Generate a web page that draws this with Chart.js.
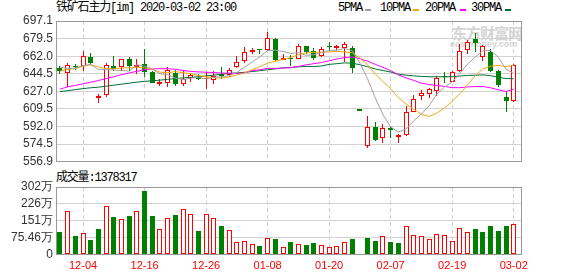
<!DOCTYPE html>
<html>
<head>
<meta charset="utf-8">
<script src="https://cdn.jsdelivr.net/npm/chart.js@4.4.1/dist/chart.umd.min.js"></script>
<style>
  body { margin: 0; width: 578px; height: 276px; overflow: hidden; position: relative; background: #fff; }
  .txt { position: absolute; font: 12px "Liberation Mono", "Noto Sans CJK SC", monospace; letter-spacing: -1.2px; color: #000; white-space: nowrap; line-height: 14px; }
  .sw { position: absolute; height: 2px; width: 6px; top: 9px; }
  .wm { position: absolute; color: #d4d4d4; white-space: nowrap; }
  canvas { position: absolute; left: 0; }
</style>
</head>
<body>
<div class="wm" style="left:452px;top:22px;font:bold 15px 'Noto Sans CJK SC';letter-spacing:-1px">东方财富网</div>
<div class="wm" style="left:450px;top:39px;font:bold 9px 'Liberation Sans'">eastmoney.com</div>

<div class="txt" style="left:56px;top:1px">铁矿石主力[im] 2020-03-02 23:00</div>
<div class="txt" style="left:338px;top:1px">5PMA</div><div class="sw" style="left:365px;background:#a0a0a0"></div>
<div class="txt" style="left:380px;top:1px">10PMA</div><div class="sw" style="left:413px;background:#f5a511"></div>
<div class="txt" style="left:425px;top:1px">20PMA</div><div class="sw" style="left:460px;background:#ff00ff"></div>
<div class="txt" style="left:471px;top:1px">30PMA</div><div class="sw" style="left:505px;background:#006f33"></div>
<div class="txt" style="left:56px;top:171px">成交量:1378317</div>

<canvas id="kline" width="578" height="172" style="top:0"></canvas>
<canvas id="vol" width="578" height="106" style="top:170px"></canvas>

<script>
// 日期 ---------------------------------------------------------
var dates = ['11-29','12-02','12-03','12-04','12-05','12-06','12-09','12-10','12-11','12-12',
  '12-13','12-16','12-17','12-18','12-19','12-20','12-23','12-24','12-25','12-26',
  '12-27','12-30','12-31','01-02','01-03','01-06','01-07','01-08','01-09','01-10',
  '01-13','01-14','01-15','01-16','01-17','01-20','01-21','01-22','01-23','02-03',
  '02-04','02-05','02-06','02-07','02-10','02-11','02-12','02-13','02-14','02-17',
  '02-18','02-19','02-20','02-21','02-24','02-25','02-26','02-27','02-28','03-02'];
var labelDays = ['12-04','12-16','12-26','01-08','01-20','02-07','02-19','03-02'];

// K线 ----------------------------------------------------------
var open = [650.0,645.6,651.5,652.0,661.7,620.8,623.7,652.7,651.4,659.4,
  651.6,654.6,646.2,634.8,635.6,645.7,634.3,640.0,641.0,639.3,
  638.8,644.7,643.1,651.4,657.5,666.2,668.4,667.8,679.1,658.5,
  659.6,659.4,672.0,666.8,662.3,671.3,670.4,670.7,670.4,607.8,
  572.5,591.2,580.5,589.6,581.8,583.4,606.9,622.7,624.3,627.2,
  641.7,636.2,647.2,668.1,678.7,661.7,665.9,647.2,621.1,617.2];
var high = [652.0,655.6,654.6,667.5,665.5,624.3,655.2,662.3,659.6,661.7,
  659.4,669.4,647.2,639.5,651.3,648.0,648.6,645.5,644.0,646.4,
  647.5,651.0,650.1,662.3,671.3,670.0,669.4,685.8,680.0,664.3,
  663.0,673.9,672.2,670.7,671.0,676.2,673.2,675.8,672.0,607.8,
  602.8,596.3,594.1,591.5,585.0,612.1,623.0,628.8,630.1,642.4,
  646.2,646.9,674.6,677.8,685.5,673.3,668.8,648.8,626.9,654.3];
var low = [644.0,631.4,648.2,647.8,653.3,615.6,621.4,647.8,647.5,647.5,
  644.7,641.7,634.9,632.5,631.0,632.6,632.7,636.6,638.0,629.4,
  634.0,639.5,641.1,650.4,655.2,664.3,664.0,667.3,657.2,658.0,
  652.3,659.0,664.3,658.1,661.4,668.0,668.1,656.2,645.6,607.5,
  570.5,578.0,576.0,580.9,575.4,583.0,606.5,618.9,620.5,622.1,
  634.9,635.9,646.5,663.9,666.5,656.9,646.5,631.1,606.9,616.6];
var close = [647.5,653.3,651.0,662.3,655.3,621.4,653.3,649.8,659.1,652.3,
  653.0,646.5,635.2,635.6,648.6,634.6,639.8,643.0,639.5,640.3,
  642.8,642.1,648.6,655.9,666.5,668.4,668.0,679.7,657.8,659.7,
  659.0,672.0,665.9,660.7,669.7,670.8,672.6,674.6,650.4,607.5,
  591.8,578.9,590.8,589.0,582.4,606.3,619.8,625.0,629.8,640.4,
  641.1,645.9,667.2,676.2,675.5,672.6,647.2,633.7,617.2,653.6];

// 均线 ---------------------------------------------------------
var ma5 = [651.4,649.5,650.4,652.7,653.9,648.7,648.7,648.4,647.8,647.2,
  653.5,652.1,649.4,644.5,643.8,640.1,638.8,640.2,641.1,639.4,
  641.1,641.5,642.7,645.9,651.2,656.3,661.5,667.7,668.1,666.7,
  664.8,665.6,662.9,663.5,665.5,667.8,667.9,669.7,667.6,655.2,
  639.4,620.6,603.9,591.6,586.6,589.5,597.7,604.5,612.7,624.3,
  631.2,636.4,644.9,654.2,661.2,667.5,667.7,661.0,649.2,644.9];
var ma10 = [647.2,648.8,649.8,652.0,653.6,651.4,649.5,649.5,650.4,650.5,
  651.1,650.4,648.9,646.2,645.5,646.8,645.5,644.8,642.8,641.6,
  640.6,640.2,641.4,643.5,645.3,648.7,651.5,655.2,657.0,659.0,
  660.6,663.6,665.3,665.8,666.1,666.3,666.8,666.3,665.5,660.3,
  653.6,644.3,636.8,629.6,620.9,614.4,609.2,604.2,602.1,605.4,
  610.4,617.1,624.7,633.4,642.7,649.4,652.1,653.0,651.7,653.0];
var ma20 = [629.3,631.5,633.0,634.6,636.2,637.8,639.8,641.6,643.6,645.4,
  647.0,648.6,649.4,649.6,649.6,649.0,647.8,646.9,646.4,646.1,
  645.8,645.3,645.2,644.8,645.4,647.8,648.5,650.0,649.9,650.3,
  650.6,651.9,653.4,654.6,655.7,657.5,659.2,660.7,661.3,659.6,
  657.1,653.9,651.0,647.7,643.5,640.4,638.0,635.2,633.8,632.9,
  632.0,630.7,630.7,631.5,631.8,631.9,630.6,628.6,626.9,629.2];
var ma30 = [626.8,627.8,628.8,629.8,630.6,631.2,632.2,633.2,634.2,635.2,
  636.2,637.0,637.6,638.2,639.0,639.8,640.4,641.0,641.6,642.4,
  643.2,644.0,644.8,645.4,646.0,646.8,647.6,648.6,649.4,650.4,
  650.8,651.4,651.9,651.8,652.3,653.9,654.6,655.4,655.1,653.6,
  651.6,649.3,647.8,646.3,644.1,643.2,642.5,641.9,641.6,641.6,
  641.5,641.6,642.3,642.9,643.2,643.4,642.7,641.1,639.8,639.6];

// 成交量 -------------------------------------------------------
var volume = [1020000,1940000,840000,960000,670000,1150000,2160000,1690000,1580000,1730000,
  1940000,2840000,1730000,1140000,1630000,1780000,2030000,1820000,1070000,1820000,
  1630000,1290000,1100000,580000,610000,470000,360000,740000,710000,340000,
  580000,470000,440000,530000,430000,340000,380000,560000,710000,40000,
  750000,620000,830000,580000,530000,1270000,870000,830000,700000,920000,
  870000,610000,1180000,1010000,1150000,1020000,1290000,1070000,1290000,1378317];

// axes
var priceTicks = [556.9, 574.5, 592.0, 609.5, 627.0, 644.5, 662.0, 679.5, 697.1];
var volTicks = [0, 754600, 1509200, 2263800, 3018400];
var volTickLabels = ['0', '75.46万', '151万', '226万', '302万'];

// -------------------------------------------------------------
var RED = '#ff0000', GREEN = '#008000';
var up = close.map(function (c, i) { return c >= open[i]; });
var volUp = close.map(function (c, i) { return i > 0 && c >= close[i - 1]; });
var tickIdx = labelDays.map(function (d) { return dates.indexOf(d); });
var xMin = -0.52, xMax = 60.08;

// cadre gris autour de la zone du graphique
var frame = {
  id: 'frame',
  beforeDatasetsDraw: function (chart) {
    var a = chart.chartArea, ctx = chart.ctx;
    var x0 = Math.round(a.left) + 0.5, x1 = Math.round(a.right) - 0.5;
    var y0 = Math.round(a.top) + 0.5, y1 = Math.round(a.bottom) - 0.5;
    ctx.save();
    ctx.strokeStyle = '#999';
    ctx.lineWidth = 1;
    ctx.strokeRect(x0, y0, x1 - x0, y1 - y0);
    ctx.restore();
  }
};

// barres nettes : on arrondit les positions calculees par l'echelle
var snap = {
  id: 'snap',
  beforeDatasetsDraw: function (chart) {
    chart.data.datasets.forEach(function (ds, k) {
      var meta = chart.getDatasetMeta(k);
      if (meta.type !== 'bar') return;
      meta.data.forEach(function (el) {
        el.x = Math.round(el.x - 0.5) + 0.5;
        el.y = Math.round(el.y);
        el.base = Math.round(el.base);
      });
    });
  }
};

function xScale(labels) {
  return {
    type: 'linear', min: xMin, max: xMax, offset: false,
    grid: { color: '#cfcfcf', offset: false, drawTicks: false },
    border: { display: false, dash: [4, 3] },
    afterBuildTicks: function (s) { s.ticks = tickIdx.map(function (v) { return { value: v }; }); },
    ticks: {
      display: labels, autoSkip: false, maxRotation: 0, padding: 5,
      color: RED, font: { family: 'Liberation Sans', size: 11 },
      callback: function (v) { return dates[v]; }
    },
    afterFit: function (s) { s.height = labels ? 21.5 : 0; }
  };
}

function line(data, color, order) {
  return {
    type: 'line', order: order,
    data: data.map(function (v, i) { return { x: i, y: v }; }),
    borderColor: color, borderWidth: 1, pointRadius: 0, fill: false, tension: 0
  };
}

new Chart(document.getElementById('kline').getContext('2d'), {
  type: 'bar',
  data: {
    datasets: [
      line(ma5, '#a0a0a0', 0),
      line(ma10, '#f5a511', 1),
      line(ma20, '#ff00ff', 2),
      line(ma30, '#006f33', 3),
      {
        order: 5,
        data: close.map(function (c, i) { return { x: i, y: [open[i], c] }; }),
        backgroundColor: up.map(function (u) { return u ? '#fff' : GREEN; }),
        borderColor: up.map(function (u) { return u ? RED : GREEN; }),
        borderWidth: 1, borderSkipped: false, barThickness: 5, grouped: false,
        minBarLength: 1.5, inflateAmount: 0
      },
      {
        order: 6,
        data: low.map(function (l, i) { return { x: i, y: [l, high[i]] }; }),
        backgroundColor: up.map(function (u) { return u ? RED : GREEN; }),
        borderWidth: 0, barThickness: 1, grouped: false, inflateAmount: 0
      }
    ]
  },
  options: {
    responsive: false, animation: false, events: [],
    layout: { padding: { left: 0, right: 56, top: 21, bottom: 7 } },
    plugins: { legend: { display: false }, tooltip: { enabled: false } },
    scales: {
      x: xScale(false),
      y: {
        min: priceTicks[0], max: priceTicks[priceTicks.length - 1],
        grid: { color: '#d2d2d2', drawTicks: false },
        border: { display: false },
        afterBuildTicks: function (s) { s.ticks = priceTicks.map(function (v) { return { value: v }; }); },
        ticks: {
          autoSkip: false, padding: 3, color: '#333',
          font: { family: 'Liberation Sans', size: 12 },
          callback: function (v) { return v.toFixed(1); }
        },
        afterFit: function (s) { s.width = 56; }
      }
    }
  },
  plugins: [frame, snap]
});

new Chart(document.getElementById('vol').getContext('2d'), {
  type: 'bar',
  data: {
    datasets: [{
      data: volume.map(function (v, i) { return { x: i, y: v }; }),
      backgroundColor: volUp.map(function (u) { return u ? '#fff' : GREEN; }),
      borderColor: volUp.map(function (u) { return u ? RED : GREEN; }),
      borderWidth: 1, borderSkipped: false, barThickness: 5, grouped: false, inflateAmount: 0
    }]
  },
  options: {
    responsive: false, animation: false, events: [],
    layout: { padding: { left: 0, right: 56, top: 17, bottom: 0 } },
    plugins: { legend: { display: false }, tooltip: { enabled: false } },
    scales: {
      x: xScale(true),
      y: {
        min: 0, max: volTicks[volTicks.length - 1],
        grid: { color: '#d2d2d2', drawTicks: false },
        border: { display: false },
        afterBuildTicks: function (s) { s.ticks = volTicks.map(function (v) { return { value: v }; }); },
        ticks: {
          autoSkip: false, padding: 3, color: '#333',
          font: { family: 'Liberation Sans', size: 12 },
          callback: function (v, i) { return volTickLabels[i]; }
        },
        afterFit: function (s) { s.width = 56; }
      }
    }
  },
  plugins: [frame, snap]
});
</script>
</body>
</html>
